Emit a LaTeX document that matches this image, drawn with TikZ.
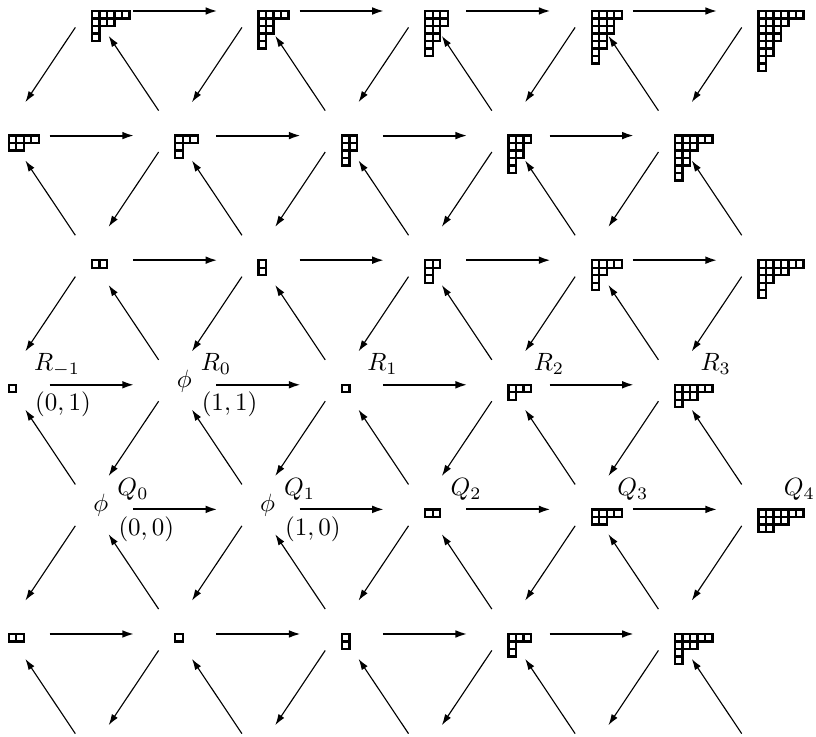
\documentclass[tikz,border=0pt]{standalone}
\usepackage{xcolor}
\usepackage{amsmath}
\usetikzlibrary{arrows.meta,calc}

% diagrama de Young: #1 = ponto (canto superior esquerdo), #2 = linhas
\newcommand{\youngd}[2]{%
  \foreach \len [count=\lin] in {#2} {
    \foreach \col in {1,...,\len} {
      \draw[caixa] ($(#1)+(\col*7.5-7.5,\lin*7.5-7.5)$) rectangle ++(7.5,7.5);
    }
  }
}

\begin{document}
\begin{tikzpicture}[x=0.4pt,y=-0.4pt,
  caixa/.style={line width=0.9pt},
  seta/.style={-{Latex[length=4.8pt,width=3.1pt]}, line width=0.85pt,
    shorten <=16.4pt, shorten >=16.4pt},
  sobe/.style={-{Latex[length=4.4pt,width=2.8pt]}, line width=0.45pt,
    shorten <=12pt, shorten >=12pt},
  desce/.style={sobe, transform canvas={yshift=3.4pt}},
  rot/.style={inner sep=0pt, anchor=base west}]

\useasboundingbox (0,0) rectangle (816,737);

% Pontos da rede (linha r, coluna c)
\foreach \r in {0,...,6} {
  \foreach \c in {0,...,4} {
    \pgfmathsetmacro{\xx}{8.7+83.3*(2*\c+1-mod(\r,2))}
    \coordinate (n\r\c) at (\xx,11+124.6*\r);
  }
}

% Setas horizontais
\foreach \r in {0,...,5} {
  \foreach \c/\d in {0/1,1/2,2/3,3/4} \draw[seta] (n\r\c) -- (n\r\d);
}

% Setas diagonais (linha de cima deslocada)
\foreach \r/\s in {0/1,2/3,4/5} {
  \foreach \c in {0,...,4} \draw[desce] (n\r\c) -- (n\s\c);
  \foreach \c/\d in {0/1,1/2,2/3,3/4} \draw[sobe] (n\s\d) -- (n\r\c);
}

% Setas diagonais (linha de baixo deslocada)
\foreach \r/\s in {1/2,3/4,5/6} {
  \foreach \c/\d in {0/1,1/2,2/3,3/4} \draw[desce] (n\r\d) -- (n\s\c);
  \foreach \c in {0,...,4} \draw[sobe] (n\s\c) -- (n\r\c);
}

% Linha 0
\youngd{n00}{5,3,1,1}
\youngd{n01}{4,2,2,1,1}
\youngd{n02}{3,3,2,2,1,1}
\youngd{n03}{4,3,3,2,2,1,1}
\youngd{n04}{6,4,3,3,2,2,1,1}

% Linha 1
\youngd{n10}{4,2}
\youngd{n11}{3,1,1}
\youngd{n12}{2,2,1,1}
\youngd{n13}{3,2,2,1,1}
\youngd{n14}{5,3,2,2,1,1}

% Linha 2
\youngd{n20}{2}
\youngd{n21}{1,1}
\youngd{n22}{2,1,1}
\youngd{n23}{4,2,1,1}
\youngd{n24}{6,4,2,1,1}

% Linha R
\youngd{n30}{1}
\node[rot] (phiR) at ($(n31)+(1,2.5)$) {$\phi$};
\youngd{n32}{1}
\youngd{n33}{3,1}
\youngd{n34}{5,3,1}

% Linha Q
\node[rot] (phiQa) at ($(n40)+(1,2.5)$) {$\phi$};
\node[rot] (phiQb) at ($(n41)+(1,2.5)$) {$\phi$};
\youngd{n42}{2}
\youngd{n43}{4,2}
\youngd{n44}{6,4,2}

% Linha 5
\youngd{n50}{2}
\youngd{n51}{1}
\youngd{n52}{1,1}
\youngd{n53}{3,1,1}
\youngd{n54}{5,3,1,1}

% Rotulos R
\node[rot] (Rm1) at ($(n30)+(25,-14)$) {$R_{-1}$};
\node[rot] (R0) at ($(n31)+(25,-14)$) {$R_0$};
\node[rot] (R1) at ($(n32)+(25,-14)$) {$R_1$};
\node[rot] (R2) at ($(n33)+(25,-14)$) {$R_2$};
\node[rot] (R3) at ($(n34)+(25,-14)$) {$R_3$};

% Rotulos Q
\node[rot] (Q0) at ($(n40)+(25,-14)$) {$Q_0$};
\node[rot] (Q1) at ($(n41)+(25,-14)$) {$Q_1$};
\node[rot] (Q2) at ($(n42)+(25,-14)$) {$Q_2$};
\node[rot] (Q3) at ($(n43)+(25,-14)$) {$Q_3$};
\node[rot] (Q4) at ($(n44)+(25,-14)$) {$Q_4$};

% Coordenadas
\node[rot] (p01) at ($(n30)+(26,26)$) {$(0,1)$};
\node[rot] (p11) at ($(n31)+(26,26)$) {$(1,1)$};
\node[rot] (p00) at ($(n40)+(26,26)$) {$(0,0)$};
\node[rot] (p10) at ($(n41)+(26,26)$) {$(1,0)$};

\end{tikzpicture}
\end{document}
